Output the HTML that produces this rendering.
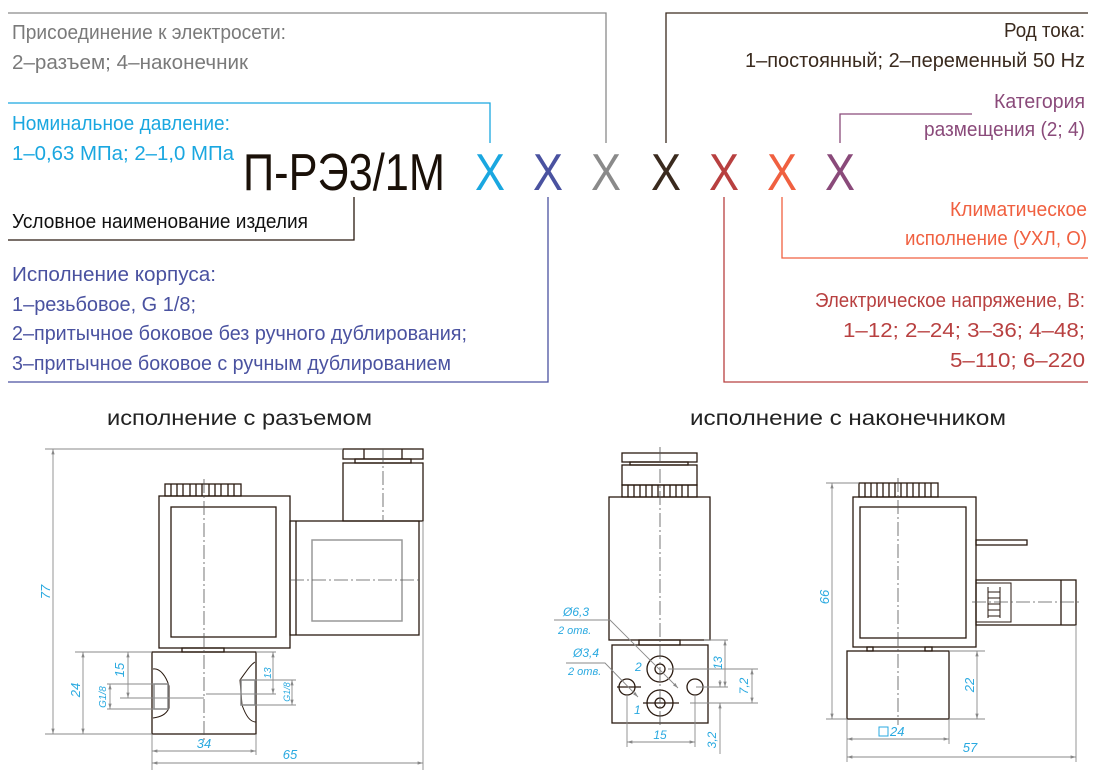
<!DOCTYPE html>
<html><head><meta charset="utf-8"><style>
html,body{margin:0;padding:0;background:#fff;}
svg{display:block;}
text{font-family:"Liberation Sans","Noto Sans CJK SC",sans-serif;}
.t{font-size:20px;}
.d{font-size:11px;font-style:italic;fill:#29a9e0;}
.k{fill:none;stroke:#2a1a10;stroke-width:1.3;}
.g{fill:none;stroke:#8a8a8a;stroke-width:0.9;}
.c{fill:none;stroke:#555;stroke-width:0.8;stroke-dasharray:14 3 2 3;}
</style></head><body>
<svg width="1100" height="778" viewBox="0 0 1100 778" xmlns="http://www.w3.org/2000/svg">
<defs>
<marker id="a" viewBox="0 0 10 10" refX="10" refY="5" markerWidth="6" markerHeight="6" orient="auto-start-reverse"><path d="M0,2 L10,5 L0,8 z" fill="#888"/></marker>
</defs>

<polyline points="8,13 606,13 606,143" fill="none" stroke="#8a8a8a" stroke-width="1.3"/>
<polyline points="8,103 490,103 490,143" fill="none" stroke="#1aa7e0" stroke-width="1.3"/>
<polyline points="354,197 354,240 8,240" fill="none" stroke="#2a1a10" stroke-width="1.3"/>
<polyline points="548,197 548,382 8,382" fill="none" stroke="#4a52a0" stroke-width="1.3"/>
<polyline points="666,143 666,13 1088,13" fill="none" stroke="#3a2a1e" stroke-width="1.3"/>
<polyline points="840,143 840,114 972,114" fill="none" stroke="#8a4a7a" stroke-width="1.3"/>
<polyline points="782,197 782,258 1088,258" fill="none" stroke="#f06040" stroke-width="1.3"/>
<polyline points="724,197 724,382 1088,382" fill="none" stroke="#b84040" stroke-width="1.3"/>

<g class="t">
<text x="12" y="39" fill="#7a7a7a" textLength="274" lengthAdjust="spacingAndGlyphs">Присоединение к электросети:</text>
<text x="12" y="69" fill="#7a7a7a" textLength="236" lengthAdjust="spacingAndGlyphs">2–разъем; 4–наконечник</text>
<text x="12" y="130" fill="#1aa7e0" textLength="218" lengthAdjust="spacingAndGlyphs">Номинальное давление:</text>
<text x="12" y="160" fill="#1aa7e0" textLength="222" lengthAdjust="spacingAndGlyphs">1–0,63 МПа; 2–1,0 МПа</text>
<text x="12" y="228" fill="#111" textLength="296" lengthAdjust="spacingAndGlyphs">Условное наименование изделия</text>
<text x="12" y="281" fill="#4a52a0" textLength="204" lengthAdjust="spacingAndGlyphs">Исполнение корпуса:</text>
<text x="12" y="311" fill="#4a52a0" textLength="184" lengthAdjust="spacingAndGlyphs">1–резьбовое, G 1/8;</text>
<text x="12" y="340" fill="#4a52a0" textLength="455" lengthAdjust="spacingAndGlyphs">2–притычное боковое без ручного дублирования;</text>
<text x="12" y="370" fill="#4a52a0" textLength="439" lengthAdjust="spacingAndGlyphs">3–притычное боковое с ручным дублированием</text>
</g>
<g class="t" text-anchor="end">
<text x="1085" y="37" fill="#3a2a1e" textLength="81" lengthAdjust="spacingAndGlyphs">Род тока:</text>
<text x="1085" y="67" fill="#3a2a1e" textLength="340" lengthAdjust="spacingAndGlyphs">1–постоянный; 2–переменный 50 Hz</text>
<text x="1085" y="108" fill="#8a4a7a" textLength="91" lengthAdjust="spacingAndGlyphs">Категория</text>
<text x="1085" y="136" fill="#8a4a7a" textLength="161" lengthAdjust="spacingAndGlyphs">размещения (2; 4)</text>
<text x="1087" y="216" fill="#f06040" textLength="137" lengthAdjust="spacingAndGlyphs">Климатическое</text>
<text x="1087" y="245" fill="#f06040" textLength="182" lengthAdjust="spacingAndGlyphs">исполнение (УХЛ, О)</text>
<text x="1085" y="307" fill="#b84040" textLength="270" lengthAdjust="spacingAndGlyphs">Электрическое напряжение, В:</text>
<text x="1085" y="337" fill="#b84040" textLength="242" lengthAdjust="spacingAndGlyphs">1–12; 2–24; 3–36; 4–48;</text>
<text x="1085" y="367" fill="#b84040" textLength="135" lengthAdjust="spacingAndGlyphs">5–110; 6–220</text>
</g>

<text x="243" y="190" font-size="52" fill="#1a1008" textLength="202" lengthAdjust="spacingAndGlyphs">П-РЭ3/1М</text>
<g font-size="52">
<text x="475" y="190" fill="#1aa7e0" textLength="30" lengthAdjust="spacingAndGlyphs">X</text>
<text x="533" y="190" fill="#4a52a0" textLength="30" lengthAdjust="spacingAndGlyphs">X</text>
<text x="591" y="190" fill="#8a8a8a" textLength="30" lengthAdjust="spacingAndGlyphs">X</text>
<text x="651" y="190" fill="#3a2a1e" textLength="30" lengthAdjust="spacingAndGlyphs">X</text>
<text x="709" y="190" fill="#b84040" textLength="30" lengthAdjust="spacingAndGlyphs">X</text>
<text x="767" y="190" fill="#f06040" textLength="30" lengthAdjust="spacingAndGlyphs">X</text>
<text x="825" y="190" fill="#8a4a7a" textLength="30" lengthAdjust="spacingAndGlyphs">X</text>
</g>

<text x="107" y="425" font-size="21" fill="#222" textLength="265" lengthAdjust="spacingAndGlyphs">исполнение с разъемом</text>
<text x="690" y="425" font-size="21" fill="#222" textLength="316" lengthAdjust="spacingAndGlyphs">исполнение с наконечником</text>

<g class="k">
<rect x="343" y="449" width="80" height="10"/>
<line x1="364" y1="449" x2="364" y2="459"/><line x1="402" y1="449" x2="402" y2="459"/>
<rect x="355" y="459" width="56" height="4"/>
<rect x="343" y="463" width="80" height="58"/>
<rect x="165" y="484" width="76" height="12"/>
<path d="M171,484V496M177,484V496M183,484V496M190,484V496M196,484V496M202,484V496M209,484V496M215,484V496M221,484V496M228,484V496M234,484V496"/>
<rect x="159" y="496" width="131" height="152"/>
<rect x="171" y="507" width="105" height="130"/>
<rect x="290" y="521" width="129" height="114"/>
<line x1="296" y1="521" x2="296" y2="635"/>
<rect x="182" y="648" width="42" height="4"/>
<rect x="152" y="652" width="104" height="82"/>
<path d="M153,669 C160,668 166,676 169,686 L169,708 C166,715 160,717 153,718" stroke-width="1"/>
<path d="M255,662 C250,665 246,672 240,680 L242,705 C246,716 250,722 256,722" stroke-width="1"/>
</g>
<rect x="312" y="540" width="90" height="81" fill="none" stroke="#999" stroke-width="1.5"/>
<rect x="154" y="684" width="14" height="25" fill="none" stroke="#888" stroke-width="1.5"/>
<rect x="241" y="680" width="14" height="25" fill="none" stroke="#888" stroke-width="1.5"/>
<line class="c" x1="383" y1="449" x2="383" y2="521"/>
<line class="c" x1="290" y1="580" x2="419" y2="580"/>
<line class="c" x1="204" y1="479" x2="204" y2="740"/>
<g class="g">
<line x1="45" y1="449" x2="343" y2="449"/>
<line x1="423" y1="521" x2="423" y2="770"/>
<line x1="45" y1="734" x2="152" y2="734"/>
<line x1="75" y1="652" x2="152" y2="652"/>
<line x1="120" y1="698" x2="204" y2="698"/>
<line x1="107" y1="684" x2="154" y2="684"/><line x1="107" y1="709" x2="154" y2="709"/>
<line x1="256" y1="652" x2="276" y2="652"/><line x1="206" y1="694" x2="276" y2="694"/>
<line x1="255" y1="680" x2="296" y2="680"/><line x1="255" y1="705" x2="296" y2="705"/>
<line x1="152" y1="734" x2="152" y2="770"/><line x1="256" y1="734" x2="256" y2="755"/>
<line x1="53" y1="449" x2="53" y2="734" marker-start="url(#a)" marker-end="url(#a)"/>
<line x1="83" y1="652" x2="83" y2="734" marker-start="url(#a)" marker-end="url(#a)"/>
<line x1="128" y1="652" x2="128" y2="698" marker-start="url(#a)" marker-end="url(#a)"/>
<line x1="110" y1="684" x2="110" y2="709" marker-start="url(#a)" marker-end="url(#a)"/>
<line x1="273" y1="652" x2="273" y2="694" marker-start="url(#a)" marker-end="url(#a)"/>
<line x1="292" y1="680" x2="292" y2="705" marker-start="url(#a)" marker-end="url(#a)"/>
<line x1="152" y1="751" x2="256" y2="751" marker-start="url(#a)" marker-end="url(#a)"/>
<line x1="152" y1="763" x2="423" y2="763" marker-start="url(#a)" marker-end="url(#a)"/>
</g>
<g class="d" text-anchor="middle">
<text transform="translate(50,592) rotate(-90)" font-size="13">77</text>
<text transform="translate(80,690) rotate(-90)" font-size="13">24</text>
<text transform="translate(124,670) rotate(-90)" font-size="13">15</text>
<text transform="translate(106,697) rotate(-90)" font-size="10">G1/8</text>
<text transform="translate(271,673) rotate(-90)" font-size="10">13</text>
<text transform="translate(290,692) rotate(-90)" font-size="9">G1/8</text>
<text x="204" y="748" font-size="13">34</text>
<text x="290" y="759" font-size="13">65</text>
</g>

<g class="k">
<rect x="622" y="453" width="75" height="9"/>
<rect x="630" y="462" width="58" height="3"/>
<rect x="622" y="465" width="75" height="20"/>
<rect x="622" y="485" width="75" height="12"/>
<path d="M628,485V497M634,485V497M640,485V497M646,485V497M652,485V497M658,485V497M664,485V497M670,485V497M676,485V497M682,485V497M688,485V497"/>
<rect x="609" y="497" width="101" height="143"/>
<rect x="639" y="640" width="41" height="5"/>
<rect x="612" y="645" width="96" height="78"/>
<circle cx="660" cy="669" r="13"/><circle cx="660" cy="669" r="5"/>
<circle cx="660" cy="703" r="13"/><circle cx="660" cy="703" r="5"/>
<circle cx="627" cy="687" r="8"/><circle cx="695" cy="687" r="8"/>
<line x1="617" y1="687" x2="641" y2="687"/>
<line x1="643" y1="703" x2="679" y2="703"/>
</g>
<line class="c" x1="660" y1="447" x2="660" y2="728"/>
<g class="g">
<polyline points="554,620 610,620 678,688" marker-end="url(#a)"/>
<polyline points="566,663 605,663 638,697" marker-end="url(#a)"/>
<line x1="704" y1="640" x2="728" y2="640"/>
<line x1="668" y1="669" x2="758" y2="669"/>
<line x1="690" y1="703" x2="758" y2="703"/>
<line x1="696" y1="687" x2="728" y2="687"/>
<line x1="627" y1="695" x2="627" y2="747"/><line x1="695" y1="695" x2="695" y2="747"/>
<line x1="725" y1="640" x2="725" y2="687" marker-start="url(#a)" marker-end="url(#a)"/>
<line x1="752" y1="669" x2="752" y2="703" marker-start="url(#a)" marker-end="url(#a)"/>
<line x1="720" y1="680" x2="720" y2="687" marker-end="url(#a)"/>
<line x1="720" y1="710" x2="720" y2="703" marker-end="url(#a)"/>
<line x1="720" y1="703" x2="720" y2="754"/>
<line x1="627" y1="742" x2="695" y2="742" marker-start="url(#a)" marker-end="url(#a)"/>
</g>
<g class="d">
<text x="563" y="616" font-size="12">Ø6,3</text>
<text x="558" y="634" font-size="11">2 отв.</text>
<text x="573" y="657" font-size="12">Ø3,4</text>
<text x="568" y="675" font-size="11">2 отв.</text>
<text x="635" y="671" font-size="12">2</text>
<text x="634" y="714" font-size="12">1</text>
<text x="660" y="739" font-size="12" text-anchor="middle">15</text>
<text transform="translate(722,663) rotate(-90)" font-size="12" text-anchor="middle">13</text>
<text transform="translate(748,686) rotate(-90)" font-size="12" text-anchor="middle">7,2</text>
<text transform="translate(716,740) rotate(-90)" font-size="12" text-anchor="middle">3,2</text>
</g>

<g class="k">
<rect x="859" y="483" width="79" height="14"/>
<path d="M865,483V497M871,483V497M877,483V497M883,483V497M889,483V497M895,483V497M901,483V497M907,483V497M913,483V497M919,483V497M925,483V497M931,483V497"/>
<rect x="853" y="497" width="123" height="150"/>
<rect x="860" y="507" width="106" height="131"/>
<rect x="976" y="540" width="51" height="5"/>
<rect x="976" y="580" width="100" height="45"/>
<line x1="1061" y1="580" x2="1061" y2="625"/>
<rect x="976" y="583" width="35" height="39" stroke-width="1"/>
<path d="M988,587V618M1000,587V618M988,592H1000M988,598H1000M988,604H1000M988,610H1000M988,616H1000" stroke-width="1"/>
<rect x="867" y="647" width="6" height="4"/><rect x="925" y="647" width="7" height="4"/>
<rect x="847" y="651" width="102" height="68"/>
</g>
<line class="c" x1="898" y1="478" x2="898" y2="725"/>
<line class="c" x1="972" y1="602" x2="1080" y2="602"/>
<g class="g">
<line x1="826" y1="483" x2="859" y2="483"/>
<line x1="826" y1="719" x2="847" y2="719"/>
<line x1="949" y1="651" x2="985" y2="651"/>
<line x1="949" y1="719" x2="985" y2="719"/>
<line x1="847" y1="719" x2="847" y2="762"/>
<line x1="949" y1="719" x2="949" y2="744"/>
<line x1="1076" y1="625" x2="1076" y2="762"/>
<line x1="832" y1="483" x2="832" y2="719" marker-start="url(#a)" marker-end="url(#a)"/>
<line x1="977" y1="651" x2="977" y2="719" marker-start="url(#a)" marker-end="url(#a)"/>
<line x1="847" y1="739" x2="949" y2="739" marker-start="url(#a)" marker-end="url(#a)"/>
<line x1="847" y1="757" x2="1076" y2="757" marker-start="url(#a)" marker-end="url(#a)"/>
</g>
<rect x="879" y="727" width="9" height="9" fill="none" stroke="#29a9e0" stroke-width="1"/>
<g class="d">
<text x="890" y="736" font-size="13">24</text>
<text x="970" y="752" font-size="13" text-anchor="middle">57</text>
<text transform="translate(829,597) rotate(-90)" font-size="13" text-anchor="middle">66</text>
<text transform="translate(974,685) rotate(-90)" font-size="13" text-anchor="middle">22</text>
</g>
</svg>
</body></html>
